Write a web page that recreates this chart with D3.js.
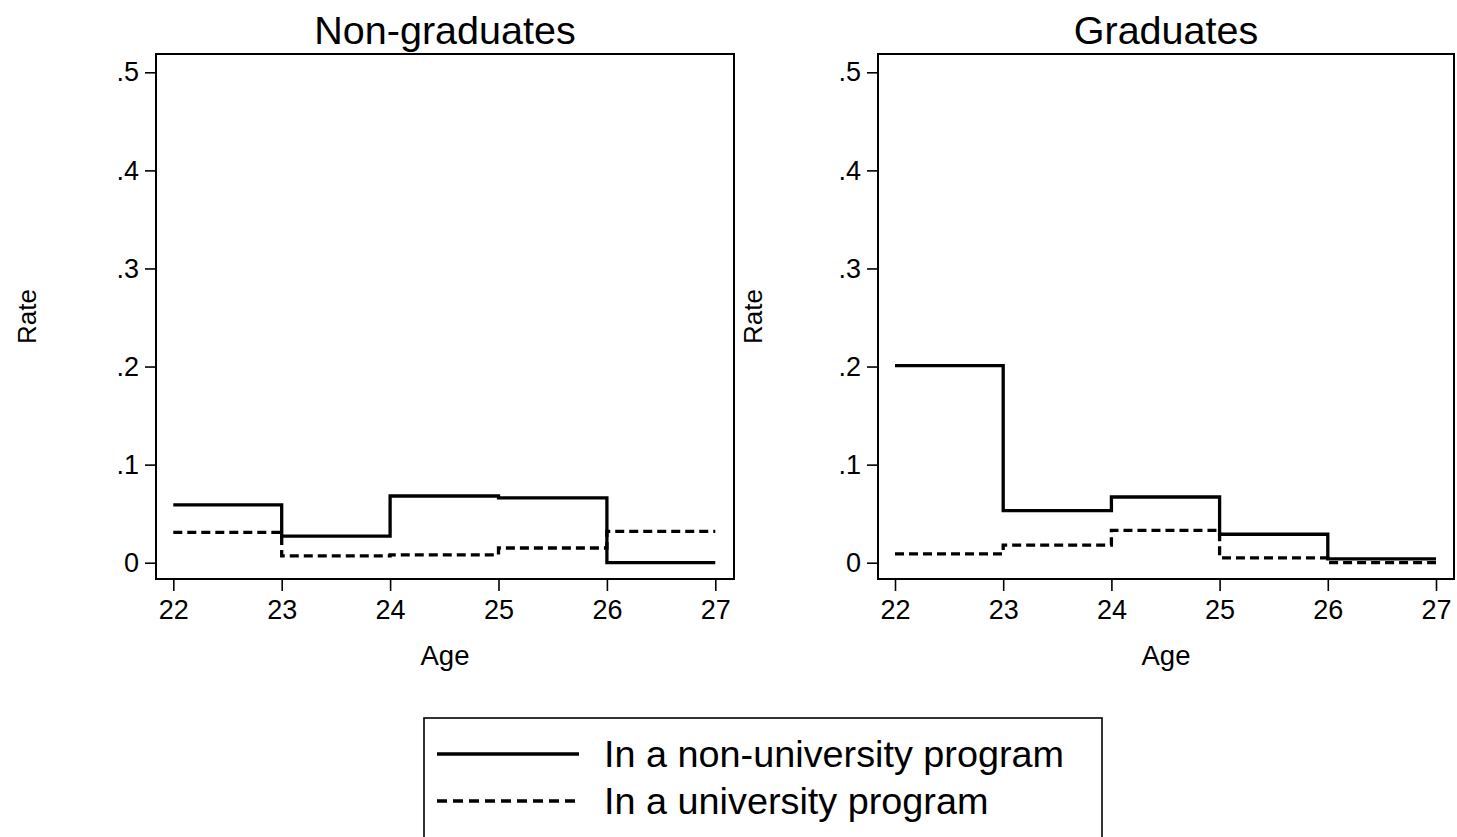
<!DOCTYPE html>
<html>
<head>
<meta charset="utf-8">
<script src="https://cdn.jsdelivr.net/npm/d3@7"></script>
<style>
  html, body { margin: 0; padding: 0; background: #fff; }
  svg { display: block; }
  text { font-family: "Liberation Sans", Arial, Helvetica, sans-serif; fill: #000; }
</style>
</head>
<body>
<svg id="chart" width="1457" height="837"></svg>
<script>
// ---- Data ----
const ages = [22, 23, 24, 25, 26, 27];
const panelTitles = ["Non-graduates", "Graduates"];
const seriesNames = ["In a non-university program", "In a university program"];
// rate in each one-year age interval [22,23), [23,24), ... [26,27]
const nonGradNonUni = [0.059, 0.027, 0.068, 0.066, 0.000];
const nonGradUni    = [0.031, 0.007, 0.008, 0.015, 0.032];
const gradNonUni    = [0.201, 0.053, 0.067, 0.029, 0.004];
const gradUni       = [0.009, 0.018, 0.033, 0.005, 0.000];
const yTicks = [0, 0.1, 0.2, 0.3, 0.4, 0.5];
const yTickLabels = ["0", ".1", ".2", ".3", ".4", ".5"];
const xTicks = [22, 23, 24, 25, 26, 27];

// ---- Layout ----
const svg = d3.select("#chart");
const panels = [
  { title: panelTitles[0], series: [nonGradNonUni, nonGradUni], frameL: 156, frameR: 734, x0: 173.3, x1: 715.3, rateX: 27 },
  { title: panelTitles[1], series: [gradNonUni, gradUni], frameL: 878, frameR: 1454, x0: 895, x1: 1436, rateX: 753 }
];
const frameT = 54, frameB = 579;
const yScale = d3.scaleLinear().domain([0, 0.5]).range([562.7, 72.3]);
const styles = [
  { width: 3.3, dash: null },
  { width: 3.3, dash: "9,5" }
];

panels.forEach(p => {
  const g = svg.append("g");
  const x = d3.scaleLinear().domain([22, 27]).range([p.x0, p.x1]);

  // frame
  g.append("rect")
    .attr("x", p.frameL).attr("y", frameT)
    .attr("width", p.frameR - p.frameL).attr("height", frameB - frameT)
    .attr("fill", "none").attr("stroke", "#000").attr("stroke-width", 2);

  // y axis
  const yAxis = d3.axisLeft(yScale).tickValues(yTicks)
    .tickFormat((d, i) => yTickLabels[i]).tickSize(11).tickPadding(6);
  const ya = g.append("g").attr("transform", `translate(${p.frameL},0)`).call(yAxis);
  ya.select(".domain").remove();
  ya.selectAll("line").attr("stroke", "#000").attr("stroke-width", 1.6);
  ya.selectAll("text").attr("font-size", 27).attr("font-family", '"Liberation Sans", Arial, sans-serif');

  // x axis
  const xAxis = d3.axisBottom(x).tickValues(xTicks).tickFormat(d3.format("d"))
    .tickSize(12).tickPadding(9);
  const xa = g.append("g").attr("transform", `translate(0,${frameB})`).call(xAxis);
  xa.select(".domain").remove();
  xa.selectAll("line").attr("stroke", "#000").attr("stroke-width", 1.6);
  xa.selectAll("text").attr("font-size", 27).attr("font-family", '"Liberation Sans", Arial, sans-serif');

  // titles
  g.append("text").attr("x", (p.frameL + p.frameR) / 2).attr("y", 44)
    .attr("text-anchor", "middle").attr("font-size", 39.5).text(p.title);
  g.append("text").attr("x", (p.frameL + p.frameR) / 2).attr("y", 665)
    .attr("text-anchor", "middle").attr("font-size", 27.5).text("Age");
  g.append("text")
    .attr("transform", `translate(${p.rateX + 9},${(frameT + frameB) / 2}) rotate(-90)`)
    .attr("text-anchor", "middle").attr("font-size", 26).text("Rate");

  // step lines
  const line = d3.line().x(d => x(d[0])).y(d => yScale(d[1])).curve(d3.curveStepAfter);
  p.series.forEach((vals, si) => {
    const pts = ages.map((a, i) => [a, vals[Math.min(i, vals.length - 1)]]);
    g.append("path").datum(pts)
      .attr("d", line)
      .attr("fill", "none").attr("stroke", "#000")
      .attr("stroke-width", styles[si].width)
      .attr("stroke-dasharray", styles[si].dash);
  });
});

// ---- Legend ----
const lg = svg.append("g");
lg.append("rect").attr("x", 424).attr("y", 718).attr("width", 678).attr("height", 130)
  .attr("fill", "#fff").attr("stroke", "#000").attr("stroke-width", 1.6);
const legendRows = [754, 801];
seriesNames.forEach((name, i) => {
  lg.append("line").attr("x1", 437).attr("x2", 579)
    .attr("y1", legendRows[i]).attr("y2", legendRows[i])
    .attr("stroke", "#000").attr("stroke-width", styles[i].width)
    .attr("stroke-dasharray", i === 1 ? "10,6" : null);
  lg.append("text").attr("x", 604).attr("y", legendRows[i] + 13)
    .attr("font-size", 37.8).text(name);
});
</script>
</body>
</html>
